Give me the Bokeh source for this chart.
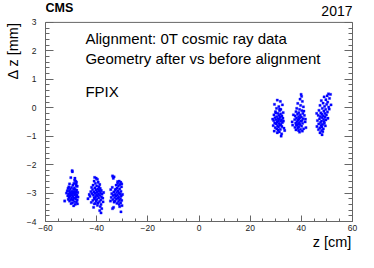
from bokeh.plotting import figure
from bokeh.models import (LinearAxis, SingleIntervalTicker, FixedTicker, Label,
                          ColumnDataSource, Span)
from bokeh.embed import file_html
from bokeh.resources import INLINE

# ---- data ----
c1_z = [-49.6,-49.5,-50.1,-48.5,-48.6,-48.2,-47.9,-48.9,-50.6,-49.3,-48.0,-47.6,-50.9,-49.8,-48.7,-51.2,-50.3,-49.1,-48.4,-47.8,
        -51.5,-50.7,-49.9,-49.4,-48.8,-48.1,-47.4,-50.5,-49.7,-49.0,-48.3,-51.0,-50.2,-48.6,-47.7,-49.6,-51.3,-50.4,-49.2,-48.0,
        -47.3,-50.8,-49.8,-48.9,-48.2,-52.5,-51.1,-50.1,-49.3,-47.6,-50.6,-48.7,-47.9,-49.5,-50.0,-48.4,-49.0,-47.5,-48.1,-51.8]
c1_dz = [-2.21,-2.25,-2.46,-2.48,-2.55,-2.58,-2.62,-2.66,-2.68,-2.72,-2.74,-2.76,-2.78,-2.80,-2.82,-2.84,-2.85,-2.87,-2.88,-2.90,
         -2.92,-2.93,-2.94,-2.95,-2.96,-2.97,-2.98,-3.00,-3.01,-3.02,-3.03,-3.04,-3.05,-3.06,-3.07,-3.08,-3.10,-3.11,-3.12,-3.13,
         -3.14,-3.16,-3.17,-3.18,-3.20,-3.28,-3.22,-3.23,-3.24,-3.25,-3.28,-3.30,-3.32,-3.34,-3.37,-3.40,-3.45,-3.38,-2.68,-3.00]

c2_z = [-40.8,-40.2,-39.7,-41.0,-39.4,-40.5,-38.8,-41.4,-40.0,-39.1,-42.0,-40.7,-38.6,-39.6,-41.6,-40.3,-38.2,-39.0,-42.3,-41.1,
        -39.8,-38.5,-40.6,-41.8,-39.3,-37.9,-40.1,-41.3,-38.7,-39.6,-42.6,-40.4,-38.1,-41.0,-39.2,-37.6,-43.4,-40.8,-39.9,-38.4,
        -41.5,-40.2,-38.9,-37.5,-42.1,-39.5,-40.9,-38.3,-39.7,-38.6,-41.2,-38.0,-38.8,-38.3,-39.3,-40.5,-42.9,-37.3]
c2_dz = [-2.45,-2.48,-2.52,-2.58,-2.62,-2.66,-2.70,-2.72,-2.75,-2.78,-2.80,-2.82,-2.84,-2.86,-2.88,-2.90,-2.91,-2.93,-2.95,-2.96,
         -2.97,-2.99,-3.00,-3.02,-3.03,-3.04,-3.06,-3.07,-3.08,-3.10,-3.12,-3.13,-3.14,-3.16,-3.17,-3.18,-3.20,-3.21,-3.22,-3.24,
         -3.26,-3.28,-3.30,-3.31,-3.33,-3.35,-3.38,-3.40,-3.43,-3.48,-3.50,-3.55,-3.62,-3.70,-2.88,-3.36,-3.05,-2.98]

c3_z = [-33.8,-33.2,-33.5,-31.2,-30.6,-31.8,-30.9,-32.4,-31.5,-30.3,-33.9,-32.0,-31.0,-34.5,-32.7,-31.6,-30.5,-33.3,-32.2,-31.3,
        -34.1,-30.8,-32.9,-31.9,-33.6,-30.4,-32.5,-31.4,-34.3,-33.0,-31.7,-30.7,-32.3,-33.7,-31.1,-30.2,-32.8,-31.5,-33.2,-30.6,
        -32.1,-31.2,-30.1,-33.8,-33.4,-30.5,-31.8,-30.2,-34.6,-32.6,-31.0,-29.9]
c3_dz = [-2.40,-2.43,-2.48,-2.58,-2.62,-2.66,-2.70,-2.72,-2.75,-2.78,-2.80,-2.83,-2.85,-2.88,-2.90,-2.92,-2.94,-2.96,-2.98,-3.00,
         -3.02,-3.03,-3.05,-3.07,-3.08,-3.10,-3.11,-3.13,-3.15,-3.16,-3.18,-3.19,-3.21,-3.23,-3.24,-3.26,-3.28,-3.30,-3.32,-3.34,
         -3.36,-3.40,-3.44,-3.55,-3.50,-3.66,-2.60,-2.68,-3.28,-2.86,-3.48,-3.05]

c4_z = [30.6,31.8,29.5,32.6,31.2,30.3,32.0,31.5,29.9,32.9,30.8,31.9,29.3,31.3,32.4,30.4,31.7,29.7,32.8,30.9,
        31.4,30.1,32.2,29.2,31.0,31.9,30.5,32.6,29.6,31.2,30.2,32.0,31.6,29.0,30.7,32.4,31.1,29.8,33.2,30.4,
        31.8,30.9,33.5,29.4,31.4,30.6,32.1,32.3,30.0,33.0,28.8,31.5]
c4_dz = [0.27,0.22,0.12,0.10,0.04,-0.02,-0.06,-0.10,-0.14,-0.17,-0.20,-0.22,-0.25,-0.27,-0.29,-0.31,-0.33,-0.35,-0.37,-0.38,
         -0.40,-0.42,-0.43,-0.45,-0.46,-0.48,-0.50,-0.52,-0.54,-0.55,-0.57,-0.59,-0.61,-0.63,-0.64,-0.66,-0.68,-0.70,-0.72,-0.74,
         -0.76,-0.79,-0.80,-0.82,-0.85,-0.88,-1.00,-0.92,-0.18,-0.47,-0.40,-0.05]

c5_z = [39.9,40.1,39.5,40.4,38.6,39.7,40.8,38.2,39.3,40.2,37.9,39.0,40.6,38.5,39.6,41.2,37.6,38.9,40.0,39.4,
        38.1,40.7,39.1,37.4,38.7,40.3,39.8,38.3,41.5,39.2,37.8,40.5,38.8,39.5,36.6,38.4,40.1,39.0,37.5,41.8,
        38.6,40.9,39.7,37.9,38.9,40.4,39.3,36.9,41.0,38.0,41.6,36.4]
c5_dz = [0.47,0.40,0.30,0.22,0.15,0.08,0.03,-0.02,-0.06,-0.10,-0.14,-0.17,-0.20,-0.22,-0.25,-0.27,-0.29,-0.31,-0.33,-0.35,
         -0.37,-0.38,-0.40,-0.42,-0.43,-0.45,-0.47,-0.49,-0.50,-0.52,-0.54,-0.55,-0.57,-0.59,-0.61,-0.63,-0.65,-0.67,-0.69,-0.70,
         -0.72,-0.74,-0.76,-0.78,-0.80,-0.82,-0.86,-0.25,-0.12,-0.60,-0.40,-0.50]

c6_z = [50.6,51.4,50.1,48.9,51.0,49.6,47.8,50.3,48.5,49.9,47.3,49.1,50.7,48.2,49.5,46.9,48.8,50.2,47.6,49.2,
        48.0,49.8,46.6,48.6,47.4,49.3,48.1,50.4,47.1,48.7,49.6,46.3,47.9,48.9,47.5,49.0,46.8,48.3,47.7,49.4,
        46.1,48.0,47.2,48.6,46.7,47.9,48.4,47.3,48.1,51.6,50.9,46.0]
c6_dz = [0.49,0.47,0.42,0.38,0.33,0.28,0.25,0.20,0.16,0.12,0.08,0.05,0.02,-0.02,-0.06,-0.09,-0.12,-0.15,-0.18,-0.20,
         -0.23,-0.25,-0.27,-0.29,-0.31,-0.33,-0.35,-0.37,-0.39,-0.41,-0.43,-0.45,-0.47,-0.49,-0.52,-0.55,-0.57,-0.59,-0.62,-0.64,
         -0.66,-0.68,-0.71,-0.74,-0.77,-0.80,-0.84,-0.88,-0.95,0.10,-0.05,-0.20]

z_all = c1_z + c2_z + c3_z + c4_z + c5_z + c6_z
dz_all = c1_dz + c2_dz + c3_dz + c4_dz + c5_dz + c6_dz

# axis extents and titles
Z_MIN, Z_MAX = -60, 60
DZ_MIN, DZ_MAX = -4, 3
X_TITLE = "z [cm]"
Y_TITLE = "\u0394 z [mm]"

FONT = "Liberation Sans"
GREY = "#666666"

# frame: full height of canvas above the x axis; the visible box ends at dz = 3
p = figure(width=358, height=252, x_range=(Z_MIN, Z_MAX), y_range=(DZ_MIN, 3.77),
           output_backend="svg", toolbar_location=None,
           x_axis_location=None, y_axis_location=None,
           min_border_left=45, min_border_right=6, min_border_top=0, min_border_bottom=30)
p.grid.visible = False
p.outline_line_color = None
p.background_fill_color = "white"
p.border_fill_color = "white"

src = ColumnDataSource(dict(z=z_all, dz=dz_all))
p.scatter("z", "dz", source=src, marker="square", size=2.3,
          fill_color="#0000ff", line_color="#0000ff", line_width=0.3)


def style(ax, major_in, minor_in, standoff):
    ax.axis_line_color = GREY
    ax.major_tick_line_color = GREY
    ax.minor_tick_line_color = GREY
    ax.major_tick_in = major_in
    ax.major_tick_out = 0
    ax.minor_tick_in = minor_in
    ax.minor_tick_out = 0
    ax.major_label_text_font = FONT
    ax.major_label_text_font_size = "8.5px"
    ax.major_label_text_color = "#222222"
    ax.major_label_standoff = standoff


def title_axis(ax, text_pos, text, standoff):
    ax.ticker = FixedTicker(ticks=[text_pos])
    ax.major_label_overrides = {text_pos: text}
    ax.axis_line_color = None
    ax.major_tick_line_color = None
    ax.minor_tick_line_color = None
    ax.major_tick_in = 0
    ax.major_tick_out = 0
    ax.major_label_text_font = FONT
    ax.major_label_text_font_size = "14.5px"
    ax.major_label_text_color = "black"
    ax.major_label_standoff = standoff


xax = LinearAxis(ticker=SingleIntervalTicker(interval=20, num_minor_ticks=4))
style(xax, 6, 3, 3)
p.add_layout(xax, "below")

xtitle = LinearAxis()
title_axis(xtitle, 52, X_TITLE, 0)
p.add_layout(xtitle, "below")

yax = LinearAxis(ticker=SingleIntervalTicker(interval=1, num_minor_ticks=5),
                 bounds=(DZ_MIN, DZ_MAX))
style(yax, 8, 4, 9)
p.add_layout(yax, "left")

ytitle = LinearAxis()
title_axis(ytitle, 2, Y_TITLE, 2)
ytitle.major_label_orientation = "parallel"
p.add_layout(ytitle, "left")

rax = LinearAxis(ticker=SingleIntervalTicker(interval=1, num_minor_ticks=5),
                 bounds=(DZ_MIN, DZ_MAX))
style(rax, 8, 4, 0)
rax.major_label_text_font_size = "1px"
rax.major_label_text_alpha = 0
p.add_layout(rax, "right")

# top edge of the frame box
p.add_layout(Span(location=DZ_MAX, dimension="width", line_color=GREY, line_width=1))

labels = [
    Label(x=-60, y=3.245, text="CMS", text_font=FONT, text_font_style="bold",
          text_font_size="12.5px", text_color="black"),
    Label(x=60, y=3.21, text="2017", text_font=FONT, text_font_size="14px",
          text_align="right", text_color="black"),
    Label(x=-44.4, y=2.125, text="Alignment: 0T cosmic ray data", text_font=FONT,
          text_font_size="15px", text_color="black"),
    Label(x=-44.4, y=1.425, text="Geometry after vs before alignment", text_font=FONT,
          text_font_size="15px", text_color="black"),
    Label(x=-44.4, y=0.27, text="FPIX", text_font=FONT,
          text_font_size="15px", text_color="black"),
]
for lb in labels:
    p.add_layout(lb)

open("out.html", "w").write(file_html(p, INLINE))
